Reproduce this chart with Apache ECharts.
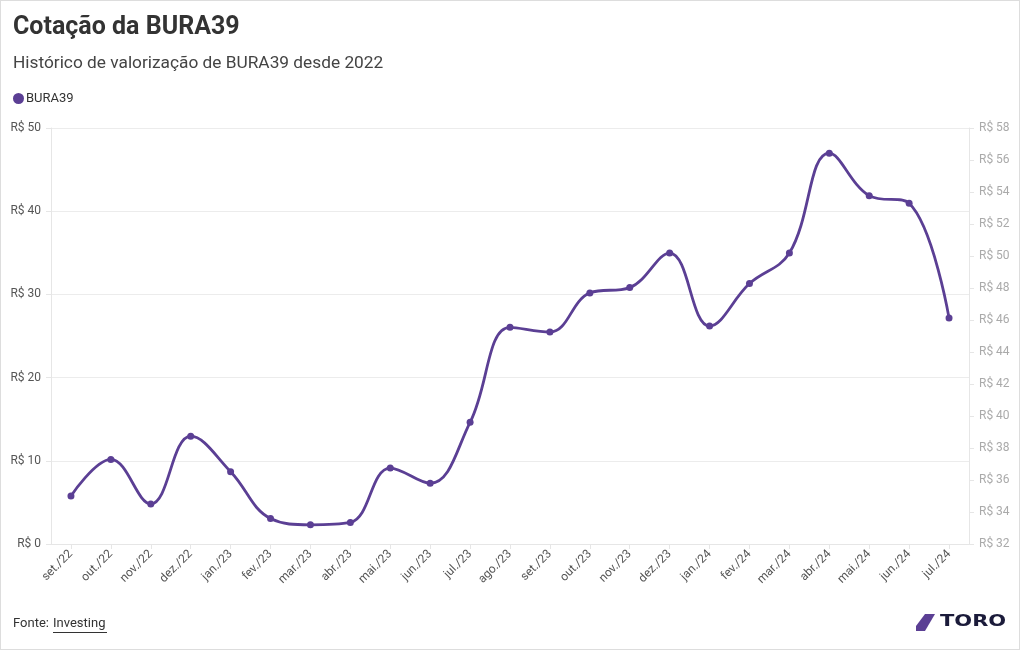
<!DOCTYPE html>
<html><head><meta charset="utf-8">
<script src="https://cdn.jsdelivr.net/npm/echarts@6/dist/echarts.min.js"></script>
<style>html,body{margin:0;padding:0;background:#fff}#c{width:1020px;height:650px;box-sizing:border-box;border:1px solid #ddd}</style>
</head><body><div id="c"></div>
<script>
const categories = ['set./22','out./22','nov./22','dez./22','jan./23','fev./23','mar./23','abr./23','mai./23','jun./23','jul./23','ago./23','set./23','out./23','nov./23','dez./23','jan./24','fev./24','mar./24','abr./24','mai./24','jun./24','jul./24'];
const values = [5.78,10.17,4.82,12.96,8.69,3.07,2.31,2.59,9.13,7.30,14.63,26.04,25.48,30.18,30.82,34.97,26.20,31.30,34.97,46.97,41.87,40.95,27.15];
const seriesName = 'BURA39';
const leftTicks = {min:0, max:50, interval:10};
const rightTicks = {min:32, max:58, interval:2};
const FONT = 'Roboto';
const purple = '#5b3f94';
const chart = echarts.init(document.getElementById('c'), null, {renderer:'canvas'});
chart.setOption({
  backgroundColor:'#fff',
  animation:false,
  textStyle:{fontFamily:FONT},
  title:[
    {text:'Cotação da BURA39', left:7, top:9, textStyle:{fontFamily:FONT,fontSize:25,fontWeight:'bold',color:'#333'}},
    {text:'Histórico de valorização de BURA39 desde 2022', left:7, top:49, textStyle:{fontFamily:FONT,fontSize:17.3,fontWeight:'normal',color:'#444'}}
  ],
  legend:{left:7, top:86, icon:'circle', itemWidth:11, itemHeight:11, itemGap:4, textStyle:{fontFamily:FONT,fontSize:13,color:'#333',padding:[0,0,0,-3]}, data:[seriesName]},
  grid:{left:50, right:50, top:127, bottom:105, containLabel:false},
  xAxis:{type:'category', data:categories, boundaryGap:true,
    axisLine:{show:true,lineStyle:{color:'#e6e6e6'}},
    axisTick:{show:true,alignWithLabel:true,length:5,lineStyle:{color:'#e6e6e6'}},
    axisLabel:{rotate:45, fontSize:12, color:'#555', fontFamily:FONT, margin:8, interval:0},
    splitLine:{show:false}},
  yAxis:[
    {type:'value', min:leftTicks.min, max:leftTicks.max, interval:leftTicks.interval, position:'left',
      axisLine:{show:true,lineStyle:{color:'#e6e6e6'}},
      axisTick:{show:true,length:5,lineStyle:{color:'#e6e6e6'}},
      axisLabel:{formatter:v=>'R$ '+v, fontSize:12, color:'#555', fontFamily:FONT, margin:10},
      splitLine:{show:true,lineStyle:{color:'#ececec'}}},
    {type:'value', min:rightTicks.min, max:rightTicks.max, interval:rightTicks.interval, position:'right',
      axisLine:{show:true,lineStyle:{color:'#e6e6e6'}},
      axisTick:{show:true,length:5,lineStyle:{color:'#e6e6e6'}},
      axisLabel:{formatter:v=>'R$ '+v, fontSize:12, color:'#aaa', fontFamily:FONT, margin:10},
      splitLine:{show:false}}
  ],
  series:[{name:seriesName, type:'line', data:values, yAxisIndex:0, smooth:0.4,
    symbol:'circle', symbolSize:7, showSymbol:true,
    lineStyle:{color:purple,width:2.8}, itemStyle:{color:purple}}],
  graphic:[
    {type:'text', left:12, top:616, style:{text:'Fonte:', font:'13px Roboto', fill:'#333'}},
    {type:'text', left:52, top:616, style:{text:'Investing', font:'13px Roboto', fill:'#333'}},
    {type:'line', shape:{x1:52,y1:631.5,x2:106,y2:631.5}, style:{stroke:'#333',lineWidth:1}},
    {type:'polygon', shape:{points:[[924,613],[934,613],[924,630],[915,630],[915,625]]}, style:{fill:'#5b3f94'}},
    {type:'text', x:939, y:614, scaleX:1.4, style:{text:'TORO', font:'bold 15px "DejaVu Sans"', fill:'#1b1b3a'}}
  ]
});
</script></body></html>
